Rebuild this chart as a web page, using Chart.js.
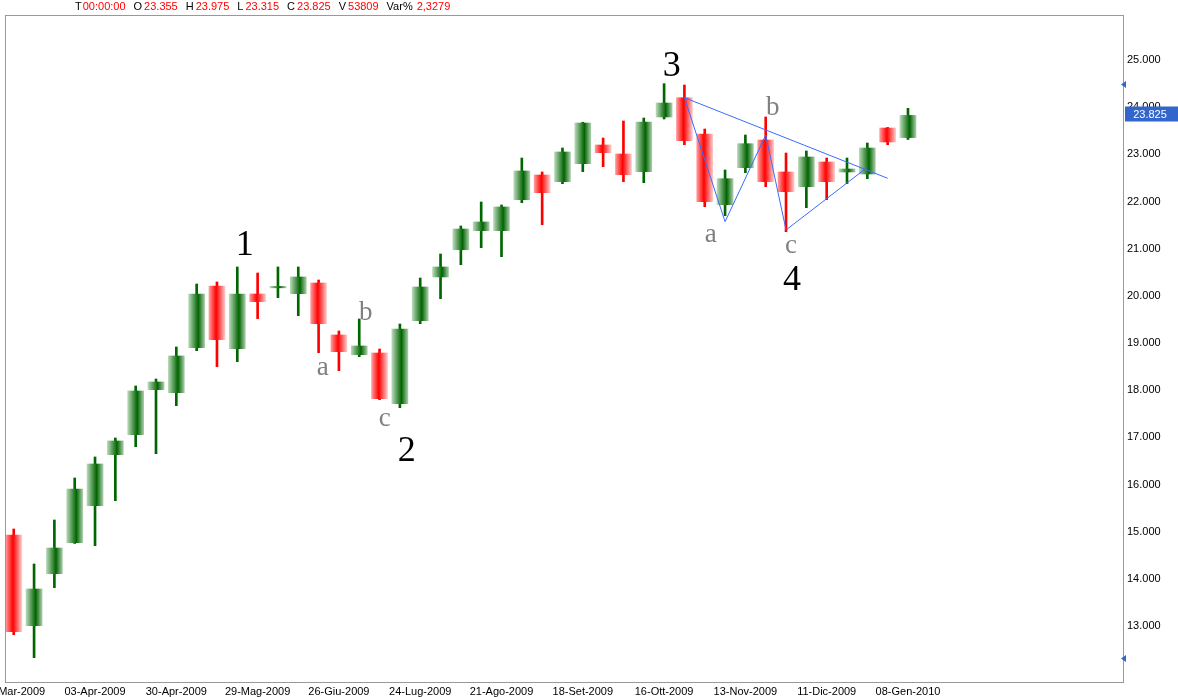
<!DOCTYPE html>
<html>
<head>
<meta charset="utf-8">
<script src="https://cdn.jsdelivr.net/npm/chart.js@4.4.1/dist/chart.umd.min.js"></script>
<style>
  html, body { margin: 0; padding: 0; background: #fff; }
  canvas { display: block; }
</style>
</head>
<body>
<canvas id="candleChart" width="1178" height="697"></canvas>
<script>
// weekly candles, 06-Mar-2009 .. 08-Gen-2010
const weeks = [
  '06-Mar-2009', '13-Mar-2009', '20-Mar-2009', '27-Mar-2009', '03-Apr-2009', '09-Apr-2009',
  '17-Apr-2009', '24-Apr-2009', '30-Apr-2009', '08-Mag-2009', '15-Mag-2009', '22-Mag-2009',
  '29-Mag-2009', '05-Giu-2009', '12-Giu-2009', '19-Giu-2009', '26-Giu-2009', '03-Lug-2009',
  '10-Lug-2009', '17-Lug-2009', '24-Lug-2009', '31-Lug-2009', '07-Ago-2009', '14-Ago-2009',
  '21-Ago-2009', '28-Ago-2009', '04-Set-2009', '11-Set-2009', '18-Set-2009', '25-Set-2009',
  '02-Ott-2009', '09-Ott-2009', '16-Ott-2009', '23-Ott-2009', '30-Ott-2009', '06-Nov-2009',
  '13-Nov-2009', '20-Nov-2009', '27-Nov-2009', '04-Dic-2009', '11-Dic-2009', '18-Dic-2009',
  '23-Dic-2009', '30-Dic-2009', '08-Gen-2010'
];
const opens = [
  14930, 13007, 14110, 14767, 15551, 16632, 17056, 18010, 17947, 18901,
  20209, 18880, 20039, 20170, 20046, 20272, 19170, 18752, 18788, 17714,
  19473, 20400, 20978, 21381, 21381, 22038, 22562, 22420, 22802, 23198,
  23007, 22632, 23792, 24201, 23431, 21932, 22717, 23304, 22626, 22314,
  22838, 22626, 22583, 23558, 23355
];
const highs = [
  15057, 14315, 15248, 16138, 16584, 16986, 18089, 18237, 18916, 20251,
  20294, 20612, 20484, 20612, 20612, 20336, 19255, 19509, 18873, 19403,
  20378, 20887, 21481, 21990, 21926, 22922, 22626, 23134, 23680, 23346,
  23707, 23770, 24498, 24470, 23537, 22668, 23410, 23792, 23028, 23071,
  22922, 22922, 23240, 23570, 23975
];
const lows = [
  12816, 12329, 13813, 14750, 14703, 15657, 16802, 16654, 17671, 18837,
  18498, 18604, 19516, 19961, 19579, 18795, 18413, 18710, 17798, 17629,
  19410, 19940, 20660, 21021, 20830, 21975, 21508, 22378, 22632, 22738,
  22420, 22399, 23749, 23204, 21890, 21699, 22611, 22314, 21360, 21869,
  22038, 22378, 22484, 23204, 23315
];
const closes = [
  12880, 13785, 14654, 15905, 16435, 16923, 17983, 18174, 18725, 20039,
  19070, 20039, 19876, 20200, 20400, 19410, 18816, 18937, 17820, 19297,
  20188, 20612, 21417, 21566, 21884, 22647, 22187, 23050, 23664, 23035,
  22568, 23686, 24088, 23289, 21996, 22484, 23226, 22420, 22208, 22944,
  22420, 22689, 23134, 23262, 23825
];
const volume = '53809';
const varPct = '2,3279';

const yTicks = [13000, 14000, 15000, 16000, 17000, 18000, 19000, 20000, 21000, 22000, 23000, 24000, 25000];
const xTicks = [0, 4, 8, 12, 16, 20, 24, 28, 32, 36, 40, 44];

// wave 4 triangle drawn in blue
const zigX = [33, 35, 37, 38, 42];
const zigY = [24201, 21572, 23410, 21396, 22725];
const trendX = [33, 43];
const trendY = [24201, 22492];

// Elliott wave labels
const waveText = ['1', '2', '3', '4'];
const waveX = [11.37, 19.34, 32.38, 38.29];
const waveY = [21120, 16753, 24915, 20378];
const subText = ['a', 'b', 'c', 'a', 'b', 'c'];
const subX = [15.2, 17.32, 18.26, 34.3, 37.35, 38.24];
const subY = [18513, 19679, 17432, 21332, 24025, 21099];

const fmt = v => (v / 1000).toFixed(3);

function bodyFill(ctx) {
  const chart = ctx.chart;
  const i = ctx.dataIndex;
  if (i === undefined || !chart.chartArea) return '#008000';
  const up = closes[i] >= opens[i];
  const cx = chart.scales.x.getPixelForValue(i);
  const g = chart.ctx.createLinearGradient(cx - 8, 0, cx + 8, 0);
  if (up) {
    g.addColorStop(0, '#b8d8b8');
    g.addColorStop(0.6, '#006400');
    g.addColorStop(1, '#a8cca8');
  } else {
    g.addColorStop(0, '#ff9c9c');
    g.addColorStop(0.45, '#ff0000');
    g.addColorStop(1, '#ffc8c8');
  }
  return g;
}

const overlay = {
  id: 'overlay',
  afterDatasetsDraw(chart) {
    const c = chart.ctx, x = chart.scales.x, y = chart.scales.y, a = chart.chartArea;
    c.save();
    c.strokeStyle = '#999999';
    c.lineWidth = 1;
    c.strokeRect(a.left + 0.5, a.top + 0.5, a.right - a.left, a.bottom - a.top);

    c.textAlign = 'center';
    c.textBaseline = 'middle';
    c.fillStyle = '#000000';
    c.font = '36px "Liberation Serif"';
    waveText.forEach((t, k) => c.fillText(t, x.getPixelForValue(waveX[k]), y.getPixelForValue(waveY[k]) + 3));
    c.fillStyle = '#808080';
    c.font = '27px "Liberation Serif"';
    subText.forEach((t, k) => c.fillText(t, x.getPixelForValue(subX[k]), y.getPixelForValue(subY[k]) + 2));
    c.restore();
  },
  afterDraw(chart) {
    const c = chart.ctx, y = chart.scales.y, a = chart.chartArea;
    const last = closes.length - 1;
    c.save();
    // header line
    c.font = '11px "Liberation Sans"';
    c.textBaseline = 'middle';
    c.textAlign = 'left';
    const items = [
      ['T', '00:00:00', 1], ['O', fmt(opens[last]), 2], ['H', fmt(highs[last]), 2],
      ['L', fmt(lows[last]), 2], ['C', fmt(closes[last]), 2], ['V', volume, 2], ['Var%', varPct, 4]
    ];
    let px = 75;
    items.forEach(([k, v, gap]) => {
      c.fillStyle = '#000000';
      c.fillText(k, px, 7);
      px += c.measureText(k).width + gap;
      c.fillStyle = '#ff0000';
      c.fillText(v, px, 7);
      px += c.measureText(v).width + 8;
    });

    // max / min markers
    c.fillStyle = '#3366cc';
    [Math.max(...highs), Math.min(...lows)].forEach(v => {
      const py = Math.round(y.getPixelForValue(v));
      c.beginPath();
      c.moveTo(a.right - 2, py + 0.5);
      c.lineTo(a.right + 3, py - 3);
      c.lineTo(a.right + 3, py + 4);
      c.closePath();
      c.fill();
    });

    // last price box
    const py = Math.round(y.getPixelForValue(closes[last])) - 1;
    c.fillRect(a.right + 2, py - 7.5, 60, 15);
    c.fillStyle = '#ffffff';
    c.textAlign = 'center';
    c.fillText(fmt(closes[last]), a.right + 27, py + 0.5);
    c.restore();
  }
};

const idx = closes.map((_, i) => i);
const tickFont = { family: '"Liberation Sans"', size: 11 };

new Chart(document.getElementById('candleChart'), {
  type: 'bar',
  data: {
    datasets: [
      {
        type: 'line',
        data: zigX.map((v, k) => ({ x: v, y: zigY[k] })),
        borderColor: '#3a6cff',
        borderWidth: 1,
        pointRadius: 0,
        fill: false,
        order: 0
      },
      {
        type: 'line',
        data: trendX.map((v, k) => ({ x: v, y: trendY[k] })),
        borderColor: '#3a6cff',
        borderWidth: 1,
        pointRadius: 0,
        fill: false,
        order: 0
      },
      {
        data: idx.map(i => ({ x: i, y: [opens[i], closes[i]] })),
        backgroundColor: bodyFill,
        barThickness: 16,
        grouped: false,
        borderWidth: 0,
        order: 1
      },
      {
        data: idx.map(i => ({ x: i, y: [lows[i], highs[i]] })),
        backgroundColor: idx.map(i => closes[i] >= opens[i] ? '#006600' : '#ff0000'),
        barThickness: 2,
        grouped: false,
        borderWidth: 0,
        order: 2
      }
    ]
  },
  options: {
    responsive: false,
    animation: false,
    layout: { padding: { left: 5, top: 15, right: 0, bottom: 0 } },
    plugins: {
      legend: { display: false },
      tooltip: { enabled: false }
    },
    scales: {
      x: {
        type: 'linear',
        min: -0.43,
        max: 54.58,
        offset: false,
        afterBuildTicks: s => { s.ticks = xTicks.map(v => ({ value: v })); },
        afterFit: s => { s.height = 15; s.paddingLeft = 0; s.paddingRight = 0; },
        grid: { display: false, drawTicks: false, offset: false },
        border: { display: false },
        ticks: {
          padding: 3,
          autoSkip: false,
          maxRotation: 0,
          color: '#000000',
          font: tickFont,
          callback: v => weeks[v]
        }
      },
      y: {
        type: 'linear',
        position: 'right',
        min: 11813,
        max: 25954,
        afterBuildTicks: s => { s.ticks = yTicks.map(v => ({ value: v })); },
        afterFit: s => { s.width = 55; },
        grid: { display: false, drawTicks: false },
        border: { display: false },
        ticks: {
          padding: 4,
          color: '#000000',
          font: tickFont,
          callback: v => fmt(v)
        }
      }
    }
  },
  plugins: [overlay]
});
</script>
</body>
</html>
